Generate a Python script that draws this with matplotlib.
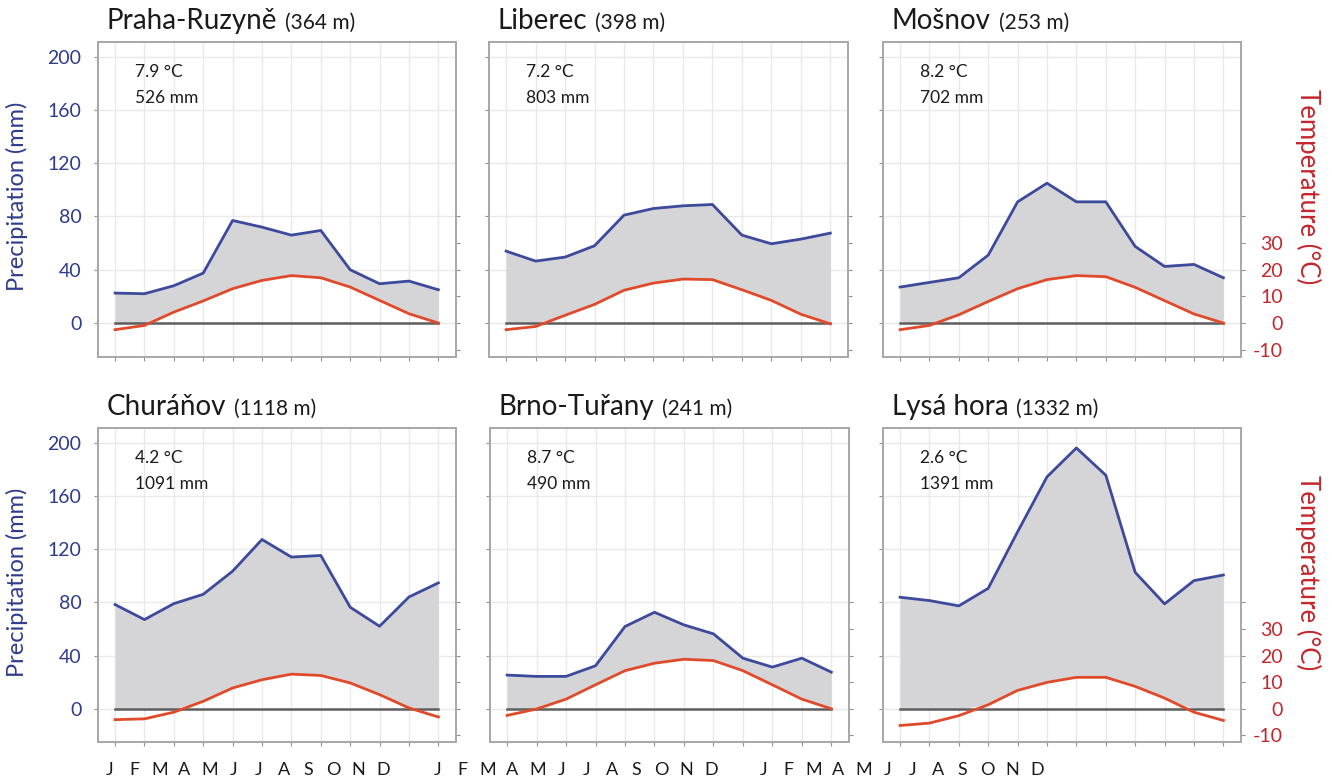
import numpy as np
import matplotlib
matplotlib.use('Agg')
import matplotlib.pyplot as plt

plt.rcParams['font.family'] = ['Lato', 'DejaVu Sans']

# ---------------- data ----------------
months = ['J', 'F', 'M', 'A', 'M', 'J', 'J', 'A', 'S', 'O', 'N', 'D']

stations = ['Praha-Ruzyně', 'Liberec', 'Mošnov', 'Churáňov', 'Brno-Tuřany', 'Lysá hora']
elevations = ['(364 m)', '(398 m)', '(253 m)', '(1118 m)', '(241 m)', '(1332 m)']
mean_temp_labels = ['7.9 °C', '7.2 °C', '8.2 °C', '4.2 °C', '8.7 °C', '2.6 °C']
annual_precip_labels = ['526 mm', '803 mm', '702 mm', '1091 mm', '490 mm', '1391 mm']

precip_praha = [22.5, 22, 28, 37.5, 77, 72, 66, 69.5, 40, 29.5, 31.5, 25]
temp_praha = [-2.5, -0.9, 4.1, 8.3, 12.9, 16.0, 17.8, 17.0, 13.5, 8.5, 3.5, 0.0]

precip_liberec = [54, 46.5, 49.5, 58, 81, 86, 88, 89, 66, 59.5, 63, 67.5]
temp_liberec = [-2.5, -1.3, 2.9, 7.0, 12.3, 15.0, 16.5, 16.3, 12.5, 8.5, 3.3, -0.3]

precip_mosnov = [27, 30.5, 34, 51, 91, 105, 91, 91, 57.5, 42.5, 44, 34]
temp_mosnov = [-2.5, -0.9, 3.1, 8.1, 12.9, 16.3, 17.8, 17.4, 13.4, 8.4, 3.4, 0.0]

precip_churanov = [78.3, 67, 79, 86, 103.4, 127.2, 114, 115.2, 76.3, 62, 84, 94.6]
temp_churanov = [-4.1, -3.8, -1.3, 2.8, 7.8, 10.9, 13.0, 12.5, 9.7, 5.3, 0.3, -3.1]

precip_brno = [25.3, 24.3, 24.3, 32.3, 61.8, 72.5, 63, 56.3, 38, 31.3, 38, 27.5]
temp_brno = [-2.5, -0.1, 3.6, 9.0, 14.3, 17.1, 18.6, 18.1, 14.3, 9.0, 3.6, 0.0]

precip_lysa = [83.8, 81.3, 77.3, 90.5, 133, 174.3, 196, 175.5, 102.5, 78.8, 96.3, 100.5]
temp_lysa = [-6.3, -5.4, -2.6, 1.5, 6.9, 9.9, 11.8, 11.8, 8.4, 4.0, -1.3, -4.4]

precip_all = [precip_praha, precip_liberec, precip_mosnov,
              precip_churanov, precip_brno, precip_lysa]
temp_all = [temp_praha, temp_liberec, temp_mosnov,
            temp_churanov, temp_brno, temp_lysa]

precip_ticks = [0, 40, 80, 120, 160, 200]
temp_ticks = [-10, 0, 10, 20, 30, 40]
temp_tick_labels = ['-10', '0', '10', '20', '30', '']

# ---------------- style ----------------
BLUE = '#3d4a9c'
NAVY = '#2f3b8c'
RED = '#e04a2a'
RED_TXT = '#c4262b'
FILL = '#d5d5d8'
FRAME = '#a9a9a9'
GRID = '#e9e9e9'
ZERO = '#5e5e5e'

W, H = 1332, 778
fig = plt.figure(figsize=(W / 100, H / 100), dpi=100)

# pixel boxes (left, top, right, bottom)
boxes = [(98, 42, 456, 357), (489, 42, 848, 357), (883, 42, 1241, 357),
         (98, 428, 456, 742), (490, 428, 849, 742), (883, 428, 1241, 742)]
ylims = [(-25.5, 211)] * 3 + [(-25, 211)] * 3

titles = []
x = np.arange(12)
for i in range(6):
    l, t, r, b = boxes[i]
    ax = fig.add_axes([l / W, 1 - b / H, (r - l) / W, (b - t) / H])
    p = np.array(precip_all[i], dtype=float)
    tc = np.array(temp_all[i], dtype=float)
    ylo, yhi = ylims[i]
    ax.set_xlim(-0.58, 11.6)
    ax.set_ylim(ylo, yhi)

    ax.fill_between(x, p, np.maximum(tc * 2, 0), color=FILL, lw=0, zorder=1)
    ax.plot([x[0], x[-1]], [0, 0], color=ZERO, lw=1.8, zorder=2)
    ax.plot(x, p, color=BLUE, lw=2.0, zorder=3, solid_joinstyle='round')

    ax.set_xticks(x)
    ax.set_xticklabels([])
    ax.set_yticks(precip_ticks)
    ax.grid(True, color=GRID, lw=1.0, zorder=0)
    ax.set_axisbelow(True)
    for s in ax.spines.values():
        s.set_color(FRAME)
        s.set_linewidth(1.3)
    ax.tick_params(axis='both', direction='out', length=3, width=0.8, color='#909090')
    if i % 3 == 0:
        ax.set_yticklabels([str(v) for v in precip_ticks], color=NAVY, fontsize=14)
        ax.tick_params(axis='y', pad=9)
        ax.set_ylabel('Precipitation (mm)', color=NAVY, fontsize=17)
        ax.yaxis.set_label_coords(-0.195, 0.51)
    else:
        ax.set_yticklabels([])

    ax2 = ax.twinx()
    ax2.set_ylim(ylo / 2, yhi / 2)
    ax2.plot(x, tc, color=RED, lw=2.0, zorder=4)
    ax2.set_yticks(temp_ticks)
    for s in ax2.spines.values():
        s.set_color(FRAME)
        s.set_linewidth(1.3)
    ax2.tick_params(axis='y', direction='out', length=3, width=0.8, color='#909090')
    if i % 3 == 2:
        ax2.set_yticklabels(temp_tick_labels, color=RED_TXT, fontsize=14)
        for lab in ax2.get_yticklabels():
            lab.set_horizontalalignment('right')
        ax2.tick_params(axis='y', pad=27)
        ax2.set_ylabel('Temperature (°C)', color=RED_TXT, fontsize=18.5, rotation=270,
                       va='center')
        ax2.yaxis.set_label_coords(1.187, 0.54)
    else:
        ax2.set_yticklabels([])

    ax.text(0.103, 0.93, mean_temp_labels[i] + '\n' + annual_precip_labels[i],
            transform=ax.transAxes, ha='left', va='top', fontsize=12.5,
            color='#1a1a1a', linespacing=1.75, zorder=6)

    t1 = ax.text(0.025, 1.042, stations[i], transform=ax.transAxes, ha='left',
                 va='baseline', fontsize=20, color='#1a1a1a')
    titles.append((ax, t1, elevations[i]))

fig.canvas.draw()
renderer = fig.canvas.get_renderer()
for ax, t1, elev in titles:
    bb = t1.get_window_extent(renderer)
    xr = ax.transAxes.inverted().transform((bb.x1, bb.y0))[0]
    ax.text(xr + 0.022, 1.042, elev, transform=ax.transAxes, ha='left',
            va='baseline', fontsize=15, color='#1a1a1a')

# month letters row along the bottom (three repeated groups)
group_starts = [110, 438, 764]
step = 24.8
for g in group_starts:
    for k, m in enumerate(months):
        fig.text((g + k * step) / W, 8 / H, m, ha='center', va='center',
                 fontsize=13, color='#1a1a1a')

fig.savefig('out.png', dpi=100)
